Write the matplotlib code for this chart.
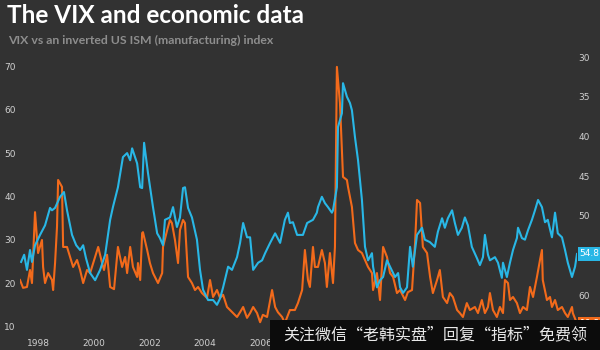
import matplotlib
matplotlib.use("Agg")
import matplotlib.pyplot as plt
from matplotlib.patches import Rectangle

# VIX (left axis), decimal years
vix_years = [1997.35, 1997.46, 1997.60, 1997.71, 1997.78, 1997.89, 1998.00, 1998.14, 1998.18, 1998.25,
             1998.36, 1998.50, 1998.54, 1998.61, 1998.68, 1998.72, 1998.86, 1998.90, 1999.04, 1999.15,
             1999.26, 1999.40, 1999.51, 1999.62, 1999.76, 1999.87, 2000.05, 2000.16, 2000.30, 2000.37,
             2000.48, 2000.59, 2000.73, 2000.87, 2001.02, 2001.13, 2001.20, 2001.31, 2001.41, 2001.56,
             2001.59, 2001.67, 2001.74, 2001.77, 2001.92, 2002.02, 2002.13, 2002.31, 2002.46, 2002.49,
             2002.64, 2002.74, 2002.81, 2002.92, 2003.03, 2003.10, 2003.21, 2003.28, 2003.39, 2003.53,
             2003.64, 2003.75, 2003.89, 2004.07, 2004.18, 2004.29, 2004.43, 2004.54, 2004.65, 2004.79,
             2004.90, 2005.01, 2005.15, 2005.26, 2005.37, 2005.51, 2005.62, 2005.73, 2005.87, 2005.98,
             2006.08, 2006.23, 2006.41, 2006.52, 2006.62, 2006.77, 2006.87, 2007.05, 2007.23, 2007.34,
             2007.49, 2007.59, 2007.70, 2007.77, 2007.88, 2007.95, 2008.06, 2008.20, 2008.31, 2008.38,
             2008.49, 2008.60, 2008.67, 2008.74, 2008.85, 2008.96, 2009.10, 2009.14, 2009.28, 2009.39,
             2009.50, 2009.64, 2009.75, 2009.86, 2010.00, 2010.04, 2010.18, 2010.29, 2010.40, 2010.54,
             2010.65, 2010.76, 2010.90, 2011.01, 2011.19, 2011.29, 2011.44, 2011.55, 2011.62, 2011.73,
             2011.83, 2011.98, 2012.09, 2012.19, 2012.34, 2012.44, 2012.55, 2012.70, 2012.80, 2012.91,
             2013.06, 2013.16, 2013.27, 2013.41, 2013.52, 2013.70, 2013.81, 2013.95, 2014.06, 2014.17,
             2014.24, 2014.35, 2014.49, 2014.60, 2014.71, 2014.78, 2014.89, 2014.96, 2015.07, 2015.21,
             2015.32, 2015.43, 2015.57, 2015.68, 2015.79, 2015.93, 2016.04, 2016.11, 2016.14, 2016.29,
             2016.40, 2016.47, 2016.58, 2016.68, 2016.83, 2016.94, 2017.04, 2017.19, 2017.22, 2017.37]
vix_values = [20.8, 19.0, 19.2, 23.1, 20.1, 36.4, 27.0, 30.0, 23.8, 20.1,
              22.4, 20.8, 18.5, 24.7, 33.0, 43.8, 42.2, 28.4, 28.4, 26.1,
              23.8, 25.4, 23.1, 20.1, 23.1, 22.4, 26.1, 28.4, 24.7, 23.1,
              26.6, 19.2, 18.7, 28.4, 23.8, 26.1, 22.4, 28.4, 23.8, 21.5,
              24.7, 20.8, 31.6, 31.8, 27.7, 24.7, 22.4, 20.1, 22.4, 28.4,
              32.3, 34.6, 33.9, 30.0, 24.7, 32.3, 34.6, 33.9, 21.5, 20.1,
              18.5, 19.2, 17.8, 16.7, 20.8, 16.9, 18.5, 16.7, 17.4, 14.6,
              13.9, 13.2, 12.3, 13.4, 14.6, 12.1, 13.2, 14.6, 13.2, 11.1,
              12.8, 12.3, 18.5, 14.6, 13.4, 12.3, 10.9, 13.9, 13.9, 15.5,
              18.5, 27.7, 20.8, 19.2, 28.4, 23.8, 23.8, 27.7, 24.7, 19.2,
              27.0, 20.1, 28.4, 69.8, 61.5, 44.5, 43.8, 42.2, 37.6, 29.3,
              27.7, 27.0, 25.4, 23.8, 22.4, 18.5, 22.4, 16.2, 28.4, 26.1,
              22.4, 21.5, 17.8, 18.5, 16.2, 18.0, 18.5, 29.3, 39.2, 38.5,
              28.4, 27.0, 21.5, 17.8, 20.8, 23.1, 16.9, 15.5, 17.8, 16.9,
              13.9, 13.2, 12.3, 15.5, 13.9, 14.6, 13.2, 16.2, 13.2, 14.6,
              17.8, 13.9, 12.3, 14.6, 13.2, 20.8, 20.1, 16.2, 16.9, 15.5,
              13.2, 14.6, 13.9, 19.2, 16.9, 21.5, 25.4, 27.7, 20.8, 16.2,
              16.9, 14.6, 16.2, 13.9, 14.6, 13.2, 12.3, 14.6, 13.2, 10.8]

# ISM manufacturing index (right axis, inverted)
ism_years = [1997.39, 1997.50, 1997.60, 1997.71, 1997.78, 1997.89, 1998.07, 1998.25, 1998.43, 1998.50,
             1998.61, 1998.79, 1998.93, 1999.04, 1999.15, 1999.22, 1999.37, 1999.51, 1999.62, 1999.72,
             1999.87, 2000.05, 2000.23, 2000.41, 2000.59, 2000.69, 2000.87, 2001.05, 2001.20, 2001.31,
             2001.38, 2001.56, 2001.67, 2001.74, 2001.81, 2001.95, 2002.13, 2002.28, 2002.38, 2002.49,
             2002.56, 2002.74, 2002.85, 2002.99, 2003.10, 2003.21, 2003.28, 2003.39, 2003.53, 2003.71,
             2003.82, 2003.93, 2004.11, 2004.29, 2004.43, 2004.54, 2004.65, 2004.83, 2004.97, 2005.15,
             2005.26, 2005.37, 2005.51, 2005.62, 2005.73, 2005.91, 2006.05, 2006.16, 2006.34, 2006.52,
             2006.70, 2006.87, 2006.98, 2007.05, 2007.16, 2007.31, 2007.52, 2007.67, 2007.88, 2008.02,
             2008.06, 2008.20, 2008.31, 2008.42, 2008.56, 2008.60, 2008.74, 2008.78, 2008.92, 2008.96,
             2009.10, 2009.21, 2009.28, 2009.39, 2009.50, 2009.64, 2009.75, 2009.86, 2010.00, 2010.04,
             2010.18, 2010.29, 2010.40, 2010.54, 2010.65, 2010.83, 2010.94, 2011.01, 2011.12, 2011.26,
             2011.37, 2011.47, 2011.62, 2011.80, 2011.90, 2012.08, 2012.26, 2012.37, 2012.52, 2012.62,
             2012.73, 2012.88, 2012.98, 2013.09, 2013.23, 2013.34, 2013.45, 2013.59, 2013.77, 2013.88,
             2013.99, 2014.06, 2014.17, 2014.24, 2014.42, 2014.53, 2014.67, 2014.71, 2014.85, 2014.96,
             2015.07, 2015.21, 2015.25, 2015.39, 2015.50, 2015.61, 2015.75, 2015.86, 2015.97, 2016.11,
             2016.22, 2016.32, 2016.47, 2016.58, 2016.68, 2016.83, 2016.94, 2017.04, 2017.19, 2017.30,
             2017.37]
ism_values = [55.8, 54.9, 56.8, 54.3, 55.8, 53.7, 52.4, 51.2, 49.0, 49.3,
              49.0, 47.6, 47.0, 49.3, 51.2, 52.4, 53.7, 54.3, 53.7, 55.3,
              57.2, 58.1, 56.8, 54.9, 50.5, 48.9, 46.4, 42.6, 42.1, 43.0,
              41.5, 43.4, 46.4, 46.5, 40.8, 44.6, 48.9, 52.2, 52.8, 53.7,
              50.5, 50.2, 48.9, 51.4, 50.2, 46.5, 46.4, 49.0, 50.2, 53.0,
              56.8, 59.3, 60.6, 60.6, 61.2, 60.4, 59.0, 56.4, 56.8, 55.2,
              53.4, 50.9, 52.7, 52.7, 56.8, 55.9, 55.6, 54.7, 53.4, 52.2,
              53.4, 50.5, 49.6, 50.9, 50.8, 52.4, 52.4, 50.9, 50.5, 49.6,
              48.9, 47.6, 48.4, 48.9, 49.6, 49.3, 46.4, 38.8, 37.1, 33.3,
              35.0, 35.8, 36.7, 40.1, 43.0, 48.0, 53.9, 55.6, 54.7, 56.4,
              59.0, 58.1, 57.7, 55.6, 56.4, 57.7, 57.2, 59.0, 59.7, 59.0,
              53.9, 56.4, 52.4, 51.5, 53.0, 53.3, 53.9, 52.0, 50.3, 51.5,
              50.3, 49.3, 50.9, 52.4, 51.5, 50.2, 51.2, 53.9, 55.3, 56.2,
              55.2, 52.4, 54.9, 55.6, 55.2, 55.9, 57.8, 55.9, 57.7, 55.9,
              54.3, 52.8, 51.5, 52.8, 53.0, 51.8, 50.5, 49.3, 48.0, 48.9,
              50.8, 50.5, 52.7, 49.6, 52.2, 52.7, 54.3, 55.9, 57.7, 56.4,
              54.8]

# later year labels sit under the banner, so only these get drawn
year_ticks = [1998, 2000, 2002, 2004, 2006]
vix_ticks = [10, 20, 30, 40, 50, 60, 70]
ism_ticks = [30, 35, 40, 45, 50, 60]

title = "The VIX and economic data"
subtitle = "VIX vs an inverted US ISM (manufacturing) index"
banner = "关注微信“老韩实盘”回复“指标”免费领"

BG = "#323232"
ORANGE = "#f26a1b"
BLUE = "#29b7e6"
TICK = "#d0d0d0"

fig = plt.figure(figsize=(6, 3.5), dpi=100, facecolor=BG)
ax = fig.add_axes([20 / 600, 15 / 350, 557 / 600, 278 / 350])
ax.set_facecolor(BG)
ax2 = ax.twinx()

ax.plot(vix_years, vix_values, color=ORANGE, lw=1.5, zorder=2)
ax2.plot(ism_years, ism_values, color=BLUE, lw=1.5, zorder=3)
ax2.set_zorder(ax.get_zorder() + 1)
ax2.patch.set_visible(False)

ax.set_xlim(1997.35, 2017.37)
ax.set_ylim(8.16, 72.07)
ax2.set_ylim(65, 30)

ax.set_xticks(year_ticks)
ax.set_xticklabels([str(y) for y in year_ticks])
ax.set_yticks(vix_ticks)
ax2.set_yticks(ism_ticks)

for a in (ax, ax2):
    for s in a.spines.values():
        s.set_visible(False)
    a.tick_params(length=0, colors=TICK, labelsize=6.5)
ax.tick_params(axis="x", pad=3)
ax.tick_params(axis="y", pad=3)
ax2.tick_params(axis="y", pad=1)

# last-value tags on the right edge
ax2.annotate(f"{ism_values[-1]:.1f}", xy=(1.0, ism_values[-1]),
             xycoords=("axes fraction", "data"), xytext=(2, 0), textcoords="offset points",
             ha="left", va="center", fontsize=6.5, color="white", annotation_clip=False,
             bbox=dict(boxstyle="square,pad=0.25", fc=BLUE, ec="none"))
ax.annotate(f"{vix_values[-1]:.1f}", xy=(1.0, vix_values[-1]),
            xycoords=("axes fraction", "data"), xytext=(2, 0), textcoords="offset points",
            ha="left", va="center", fontsize=6.5, color="white", annotation_clip=False,
            bbox=dict(boxstyle="square,pad=0.25", fc=ORANGE, ec="none"))

fig.text(0.012, 0.988, title, color="white", fontsize=17.5, fontweight="bold",
         family="Lato", va="top", ha="left")
fig.text(0.013, 0.9, subtitle, color="#8e8e8e", fontsize=8.8, fontweight="bold",
         family="Lato", va="top", ha="left")

fig.add_artist(Rectangle((270 / 600, 0), 330 / 600, 30 / 350, transform=fig.transFigure,
                         facecolor="#0c0c0c", edgecolor="none", zorder=10))
fig.text(435 / 600, 15 / 350, banner, color="#e8e8e8", fontsize=11.5,
         family=["Noto Sans CJK SC", "DejaVu Sans"], ha="center", va="center", zorder=11)

fig.savefig("out.png", dpi=100, facecolor=BG)
